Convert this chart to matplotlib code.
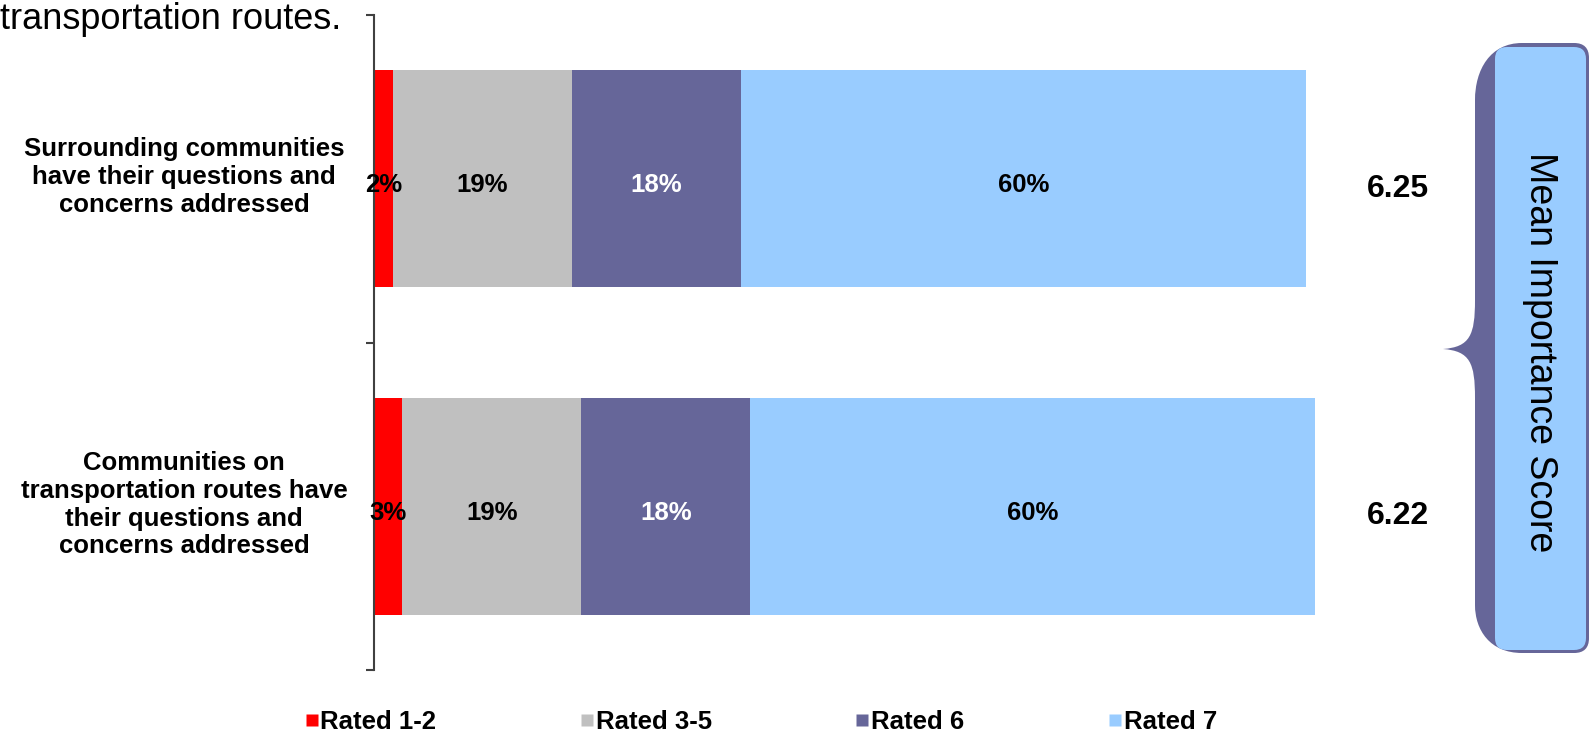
import matplotlib.pyplot as plt
import matplotlib.transforms as mtransforms
from matplotlib.path import Path
from matplotlib.patches import PathPatch, FancyBboxPatch
from matplotlib.lines import Line2D

plt.rcParams['font.family'] = ['Liberation Sans', 'DejaVu Sans']

kategorije = ["Surrounding communities\nhave their questions and\nconcerns addressed",
              "Communities on\ntransportation routes have\ntheir questions and\nconcerns addressed"]
serije = ["Rated 1-2", "Rated 3-5", "Rated 6", "Rated 7"]
vrednosti = [[2, 3], [19, 19], [18, 18], [60, 60]]
povprecja = ["6.25", "6.22"]
barve = ["#FF0000", "#C0C0C0", "#666699", "#99CCFF"]
barve_napisov = ["black", "black", "white", "black"]

W, H = 1589, 735
fig = plt.figure(figsize=(W / 100, H / 100), dpi=100)
fig.patch.set_facecolor("white")

ax = fig.add_axes([374 / W, 1 - 670 / H, 941 / W, 655 / H])
y = list(range(len(kategorije)))
levo = [0] * len(kategorije)
for s in range(len(serije)):
    ax.barh(y, vrednosti[s], left=levo, height=0.663, color=barve[s], label=serije[s])
    for i in range(len(kategorije)):
        v = vrednosti[s][i]
        ax.text(levo[i] + v / 2, i + 0.02, f"{v}%", ha="center", va="center",
                fontsize=18.5, fontweight="bold", color=barve_napisov[s])
        levo[i] += v

ax.set_xlim(0, 100)
ax.set_ylim(1.5, -0.5)
ax.set_yticks([-0.5, 0.5, 1.5])
ax.set_yticklabels([])
ax.tick_params(axis="y", length=6, width=1.5, color="#404040")
ax.set_xticks([])
for k in ["top", "right", "bottom"]:
    ax.spines[k].set_visible(False)
ax.spines["left"].set_color("#404040")
ax.spines["left"].set_linewidth(1.5)
ax.set_facecolor("none")

trans = mtransforms.blended_transform_factory(fig.transFigure, ax.transData)
for i, k in enumerate(kategorije):
    ax.text(184 / W, i - 0.005, k, transform=trans, ha="center", va="center",
            fontsize=18.5, fontweight="bold", linespacing=1.2)
    ax.text(108.8, i + 0.03, povprecja[i], ha="center", va="center",
            fontsize=23, fontweight="bold", clip_on=False)

# naslov (v izvirniku odrezan)
fig.text(0, 1 - 29 / H, "transportation routes.", fontsize=26, va="baseline", ha="left")

# oklepaj in okvir na desni
ov = fig.add_axes([0, 0, 1, 1], zorder=-1)
ov.set_xlim(0, W)
ov.set_ylim(H, 0)
ov.axis("off")
ov.patch.set_alpha(0)
verts = [(1589, 58), (1589, 48), (1584, 43), (1574, 43),
         (1522, 43), (1490, 43), (1475, 70), (1475, 100),
         (1475, 300),
         (1475, 335), (1470, 347), (1443, 349),
         (1470, 351), (1475, 363), (1475, 398),
         (1475, 605), (1475, 630), (1490, 653), (1522, 653),
         (1574, 653), (1584, 653), (1589, 648), (1589, 638),
         (1589, 58)]
codes = [Path.MOVETO, Path.CURVE4, Path.CURVE4, Path.CURVE4,
         Path.LINETO, Path.CURVE4, Path.CURVE4, Path.CURVE4,
         Path.LINETO,
         Path.CURVE4, Path.CURVE4, Path.CURVE4,
         Path.CURVE4, Path.CURVE4, Path.CURVE4,
         Path.LINETO, Path.CURVE4, Path.CURVE4, Path.CURVE4,
         Path.LINETO, Path.CURVE4, Path.CURVE4, Path.CURVE4,
         Path.CLOSEPOLY]
ov.add_patch(PathPatch(Path(verts, codes), facecolor="#666699", edgecolor="none"))
ov.add_patch(FancyBboxPatch((1507, 59), 1574 - 1507, 638 - 59,
                            boxstyle="round,pad=12", facecolor="#99CCFF", edgecolor="none"))
ov.text(1540, 352, "Mean Importance Score", rotation=270, ha="center", va="center",
        fontsize=27, color="black")

rocice = [Line2D([], [], marker="s", linestyle="none", markersize=9,
                 markerfacecolor=barve[s], markeredgecolor="none") for s in range(len(serije))]
fig.legend(rocice, serije, loc="center", bbox_to_anchor=(761 / W, 1 - 722 / H), ncol=4,
           frameon=False, prop={"size": 18.5, "weight": "bold"}, handlelength=0.5,
           handletextpad=0.1, columnspacing=5.6)

fig.savefig("out.png", dpi=100)
